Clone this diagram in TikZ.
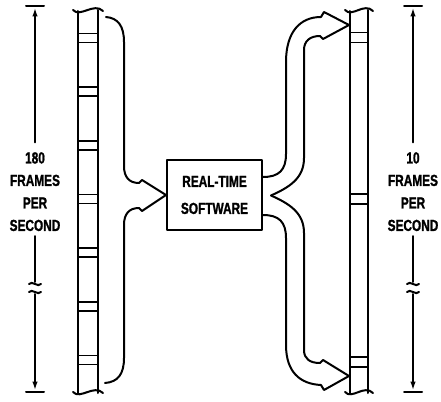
\documentclass[tikz,border=0pt]{standalone}
\usepackage{fontspec}
\newfontfamily\labelfont[FakeStretch=0.74,FakeBold=1.2]{Liberation Sans Bold}
\usetikzlibrary{arrows.meta,calc}

\begin{document}
\begin{tikzpicture}[x=1pt,y=-1pt,line width=2pt,line join=round,line cap=round,
  lbl/.style={font=\labelfont\fontsize{16}{22.5}\selectfont,align=center,inner sep=0pt},
  boxlbl/.style={draw,font=\labelfont\fontsize{16}{27}\selectfont,align=center,
    inner sep=0pt,minimum width=95pt,minimum height=70pt},
  dimtip/.style={-{Latex[length=9pt,width=5.5pt]}},
  band/.style={line width=1.6pt}]
\useasboundingbox (0,0) rectangle (441,401);

% ---- input film strip (180 frames per second) ----
\draw (78,11) -- (78,393) (98,10) -- (98,393);
\draw (73,10) .. controls (80,18) and (94,2) .. (103,11);
\draw (73,392) .. controls (80,400) and (94,384) .. (103,393);
\foreach \c in {38,91.7,145.3,199,252.7,306.3,360}
  \draw[band] (78,{\c-4.5}) -- (98,{\c-4.5}) (78,{\c+4.5}) -- (98,{\c+4.5});

% ---- output film strip (10 frames per second) ----
\draw (350,11) -- (350,393) (368,10) -- (368,393);
\draw (345,10) .. controls (352,18) and (364,2) .. (373,11);
\draw (345,392) .. controls (352,400) and (364,384) .. (373,393);
\foreach \c in {37.5,199,362}
  \draw[band] (350,{\c-5}) -- (368,{\c-5}) (350,{\c+5}) -- (368,{\c+5});

% ---- processing box ----
\node[boxlbl] (sw) at (214.5,195) {REAL-TIME\\SOFTWARE};

% ---- brace collecting the input frames into the box ----
\coordinate (bstart) at (106,17);
\coordinate (bend) at (105,383);
\draw (bstart) .. controls (118,18) and (124,26) .. (124,42) -- (124,166)
  .. controls (124,177) and (129,183) .. (139,183) -- (142,180) -- (sw.west)
  -- (142,211) -- (139,208) .. controls (129,208) and (124,214) .. (124,225)
  -- (124,358) .. controls (124,374) and (118,382) .. (bend);

% ---- forked hollow arrows to the output frames ----
\coordinate (fork) at (271,195.5);
\coordinate (rtip1) at (349,25);
\coordinate (rtip2) at (349,376);
\draw ($(sw.east)+(0,-18)$) .. controls (279,177) and (286,170) .. (286,154)
  -- (286,62) .. controls (286,32) and (300,17) .. (321,17) -- (324,12) -- (rtip1);
\draw (fork) .. controls (290,187) and (304,178) .. (304,158)
  -- (304,50) .. controls (304,41) and (310,36) .. (320,36) -- (323,39) -- (rtip1);
\draw (fork) .. controls (290,204) and (304,213) .. (304,233)
  -- (304,350) .. controls (304,359) and (310,363) .. (320,363) -- (323,360) -- (rtip2);
\draw ($(sw.east)+(0,20)$) .. controls (279,215) and (286,222) .. (286,238)
  -- (286,345) .. controls (286,372) and (300,384) .. (321,385) -- (324,390) -- (rtip2);

% ---- left dimension: 180 frames per second ----
\node[lbl] (lrate) at (35,191.7) {180\\FRAMES\\PER\\SECOND};
\coordinate (ltop) at (35,7.5);
\coordinate (lbot) at (35,390.5);
\draw (26,6) -- (44,6) (26,392) -- (44,392);
\draw[dimtip] ([yshift=9pt]lrate.north) -- (ltop);
\draw ([yshift=-4pt]lrate.south) -- (35,282);
\draw (29,284) .. controls (32,280) and (38,288) .. (41,284);
\draw (29,292) .. controls (32,288) and (38,296) .. (41,292);
\draw[dimtip] (35,294) -- (lbot);

% ---- right dimension: 10 frames per second ----
\node[lbl] (rrate) at (413,191.7) {10\\FRAMES\\PER\\SECOND};
\coordinate (rtop) at (413,7.5);
\coordinate (rbot) at (413,390.5);
\draw (404,6) -- (422,6) (404,392) -- (422,392);
\draw[dimtip] ([yshift=9pt]rrate.north) -- (rtop);
\draw ([yshift=-4pt]rrate.south) -- (413,282);
\draw (407,284) .. controls (410,280) and (416,288) .. (419,284);
\draw (407,292) .. controls (410,288) and (416,296) .. (419,292);
\draw[dimtip] (413,294) -- (rbot);
\end{tikzpicture}
\end{document}
